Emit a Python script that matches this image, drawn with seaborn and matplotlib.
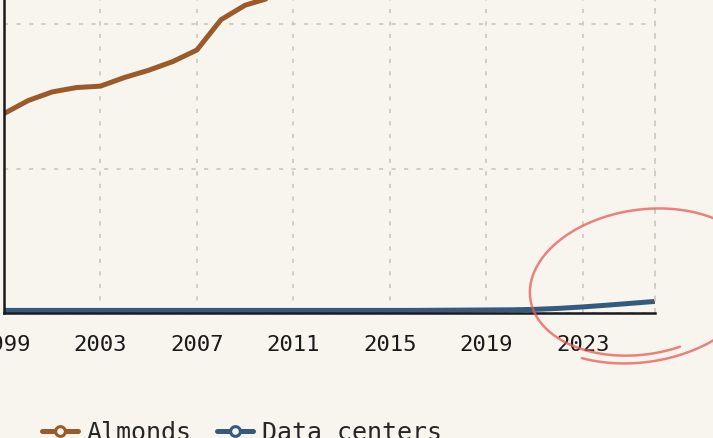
import matplotlib
matplotlib.use("Agg")
import matplotlib.pyplot as plt
import seaborn as sns
import numpy as np
import pandas as pd

# ---------- data (units = million acre-feet) ----------
years = list(range(1999, 2027))
almonds = [1.38, 1.47, 1.53, 1.56, 1.57, 1.63, 1.68, 1.74, 1.82, 2.03, 2.13, 2.18,
           2.24, 2.30, 2.36, 2.42, 2.48, 2.54, 2.60, 2.66, 2.72, 2.78, 2.84, 2.90,
           2.96, 3.02, 3.08, 3.14]
data_centers = [0.018, 0.018, 0.018, 0.018, 0.018, 0.018, 0.018, 0.018, 0.018, 0.018,
                0.018, 0.018, 0.018, 0.018, 0.018, 0.018, 0.018, 0.018, 0.019, 0.020,
                0.021, 0.022, 0.025, 0.032, 0.042, 0.054, 0.067, 0.080]
series = ["Almonds", "Data centers"]
colors = {"Almonds": "#9a5a2a", "Data centers": "#355a80"}
xticks = [1999, 2003, 2007, 2011, 2015, 2019, 2023]
yticks = [0, 1, 2, 3]

BG = "#f8f5ee"
GRID = "#cbc7bf"
RED = "#e85a55"
W, H = 713, 438

df = pd.DataFrame({
    "year": years * 2,
    "value": almonds + data_centers,
    "series": [series[0]] * len(years) + [series[1]] * len(years),
})

sns.set_theme(style="white")
plt.rcParams["font.family"] = ["DejaVu Sans Mono", "DejaVu Sans"]

fig = plt.figure(figsize=(W / 100, H / 100), dpi=100, facecolor=BG)
# axes runs past the top/left edge of the figure (cropped view, like the screenshot)
ax = fig.add_axes([4 / W, 125 / H, 651 / W, 4 * 144.5 / H])
ax.set_facecolor(BG)

sns.lineplot(data=df, x="year", y="value", hue="series", palette=colors,
             linewidth=3.6, ax=ax, legend=False)

ax.set_xlim(1999, 2026)
ax.set_ylim(0, 4)
ax.set_xticks(xticks)
ax.set_yticks(yticks)
ax.set_xlabel("")
ax.set_ylabel("")
ax.grid(True, color=GRID, linestyle=(0, (2.5, 5)), linewidth=1.2)
ax.tick_params(axis="both", colors="#1a1a1a", width=1.6, length=10, labelsize=16, pad=6)

ax.spines["top"].set_visible(False)
ax.spines["right"].set_color(GRID)
ax.spines["right"].set_linestyle((0, (2.5, 5)))
ax.spines["right"].set_linewidth(1.2)
for s in ["left", "bottom"]:
    ax.spines[s].set_color("#1a1a1a")
    ax.spines[s].set_linewidth(1.8)

# legend: line + open circle handles
handles = [plt.Line2D([], [], color=colors[s], lw=3.6, marker="o", markersize=7,
                      markerfacecolor=BG, markeredgewidth=2.2) for s in series]
fig.legend(handles, series, loc="center left", bbox_to_anchor=(42 / W, 5.5 / H),
           frameon=False, fontsize=18, handlelength=1.44, handletextpad=0.36,
           columnspacing=1.0, ncol=2, borderpad=0, borderaxespad=0)

# hand-drawn red loop around the latest data-center values (pixel space, y down)
phi = np.radians(np.linspace(112, -298, 300))
scale = np.linspace(1.08, 0.96, phi.size)
cx, cy, rx, ry = 642, 284, 112, 74
py = cy + ry * scale * np.sin(phi)
px = cx + rx * scale * np.cos(phi) - 0.2 * (py - cy)
fig.add_artist(plt.Line2D(px / W, 1 - py / H, transform=fig.transFigure,
                          color=RED, lw=1.8, alpha=0.75, solid_capstyle="round"))

fig.savefig("out.png", dpi=100, facecolor=BG)
